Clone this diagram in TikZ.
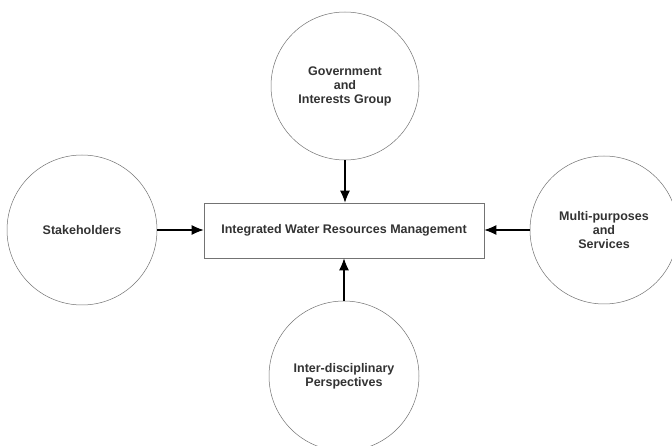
\documentclass[tikz,border=0pt]{standalone}
\usepackage{fontspec}
\setmainfont{Liberation Sans}
\usetikzlibrary{arrows.meta}
\begin{document}
\begin{tikzpicture}[x=1pt,y=-1pt,
  every node/.style={font=\fontsize{12.5}{14}\selectfont\bfseries, text=black!80, align=center},
  bubble/.style={circle, draw=black!55, line width=0.5pt, inner sep=0pt},
  core/.style={rectangle, draw=black!55, line width=0.6pt, minimum width=280pt, minimum height=55pt},
  feed/.style={draw=black, line width=1.1pt, -{Latex[length=12pt,width=10pt]}}
]
\useasboundingbox (0,0) rectangle (672,446);
\fill[white] (0,0) rectangle (672,446);

\node[core] (iwrm) at (344,230.5) {Integrated Water Resources Management};

\node[bubble, minimum size=148pt] (gov) at (345,86) {Government\\and\\Interests Group};
\node[bubble, minimum size=150pt] (stake) at (82,230) {Stakeholders};
\node[bubble, minimum size=148pt] (multi) at (604,230) {Multi-purposes\\and\\Services};
\node[bubble, minimum size=150pt] (inter) at (344,376) {Inter-disciplinary\\Perspectives};

\draw[feed] (gov.south) -- (iwrm.north -| gov.south);
\draw[feed] (stake.east) -- (iwrm.west |- stake.east);
\draw[feed] (multi.west) -- (iwrm.east |- multi.west);
\draw[feed] (inter.north) -- (iwrm.south -| inter.north);
\end{tikzpicture}
\end{document}
